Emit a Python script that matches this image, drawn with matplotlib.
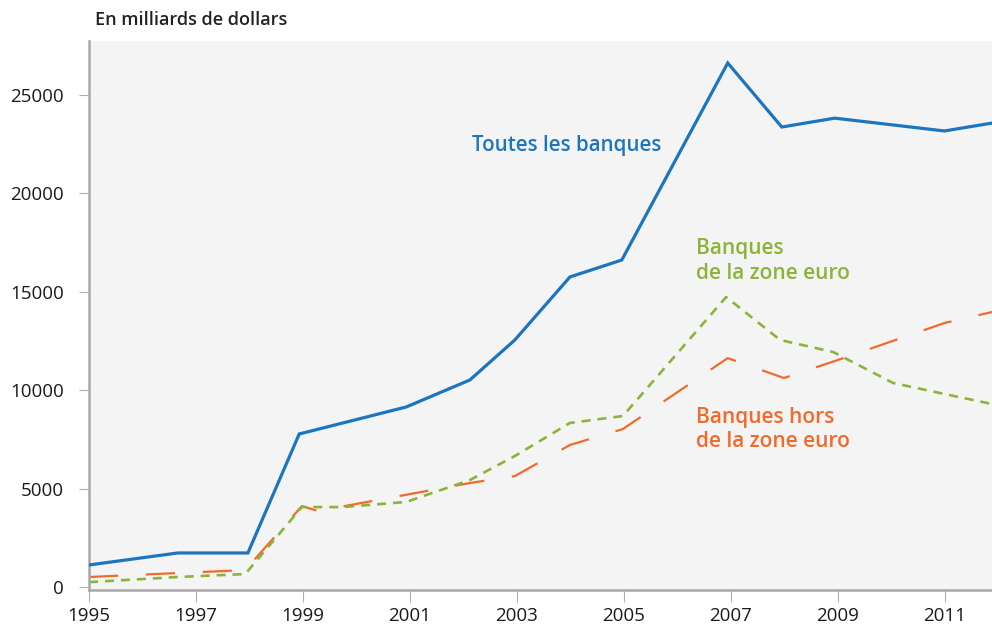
import matplotlib
matplotlib.use("Agg")
import matplotlib.pyplot as plt

plt.rcParams['font.family'] = ['Open Sans', 'DejaVu Sans']
plt.rcParams['lines.scale_dashes'] = False

# Data (x in fractional years)
x_all = [1995.0, 1996.66, 1997.97, 1998.93, 2000.93, 2002.12, 2002.96,
         2003.99, 2004.96, 2006.94, 2007.95, 2008.94, 2010.99, 2011.88]
v_all = [1120, 1730, 1730, 7770, 9140, 10510, 12540,
         15740, 16600, 26600, 23350, 23800, 23150, 23550]

x_euro = [1995.0, 1996.66, 1997.92, 1998.98, 1999.75, 2000.93, 2002.12,
          2002.96, 2003.99, 2004.98, 2006.91, 2007.92, 2008.91, 2010.03,
          2010.99, 2011.88]
v_euro = [250, 510, 660, 4060, 4060, 4320, 5430,
          6650, 8330, 8680, 14720, 12540, 11930, 10360,
          9800, 9290]

x_hors = [1995.0, 1996.66, 1997.92, 1998.98, 1999.28, 2002.12, 2002.96,
          2003.99, 2004.98, 2006.94, 2007.99, 2008.94, 2009.97, 2010.99,
          2011.88]
v_hors = [510, 710, 860, 4110, 3860, 5280, 5630,
          7210, 8020, 11620, 10610, 11470, 12440, 13400,
          13960]

x_ticks = [1995, 1997, 1999, 2001, 2003, 2005, 2007, 2009, 2011]
y_ticks = [0, 5000, 10000, 15000, 20000, 25000]

BLUE = '#1c75bf'
GREEN = '#8ab43a'
ORANGE = '#f26a2a'

fig = plt.figure(figsize=(9.92, 6.24), dpi=100)
ax = fig.add_axes([89/992, 1 - 590/624, 1 - 89/992, (590 - 41)/624])
ax.set_facecolor('#f4f4f4')

ax.plot(x_all, v_all, color=BLUE, lw=2.3, solid_joinstyle='miter', zorder=3)
ax.plot(x_hors, v_hors, color=ORANGE, lw=1.6, dashes=(21, 20), zorder=2)
ax.plot(x_euro, v_euro, color=GREEN, lw=1.9, dashes=(6.5, 5), zorder=2)

ax.set_xlim(1995, 2011.88)
ax.set_ylim(-150, 27716)
ax.set_xticks(x_ticks)
ax.set_xticklabels([str(t) for t in x_ticks])
ax.set_yticks(y_ticks)
ax.set_yticklabels([str(t) for t in y_ticks])

for s in ['top', 'right']:
    ax.spines[s].set_visible(False)
ax.spines['left'].set_color('#a8a8a8')
ax.spines['left'].set_linewidth(1.8)
ax.spines['bottom'].set_color('#a8a8a8')
ax.spines['bottom'].set_linewidth(1.8)

ax.tick_params(axis='x', length=8.5, width=0.8, color='#b0b0b0', pad=4,
               labelsize=13.5, labelcolor='#1a1a1a')
ax.tick_params(axis='y', length=7, width=0.8, color='#b0b0b0', pad=11,
               labelsize=13.5, labelcolor='#1a1a1a')

fig.text(95/992, 1 - 20/624, 'En milliards de dollars', fontsize=13,
         fontweight='semibold', color='#222222', ha='left', va='center')

ax.text(2002.16, 22400, 'Toutes les banques', color=BLUE, fontsize=14.8,
        fontweight='semibold', ha='left', va='center')
ax.text(2006.35, 16550, 'Banques\nde la zone euro', color=GREEN, fontsize=15,
        fontweight='semibold', ha='left', va='center', linespacing=1.2)
ax.text(2006.35, 8000, 'Banques hors\nde la zone euro', color=ORANGE, fontsize=15,
        fontweight='semibold', ha='left', va='center', linespacing=1.2)

fig.savefig('out.png', dpi=100)
